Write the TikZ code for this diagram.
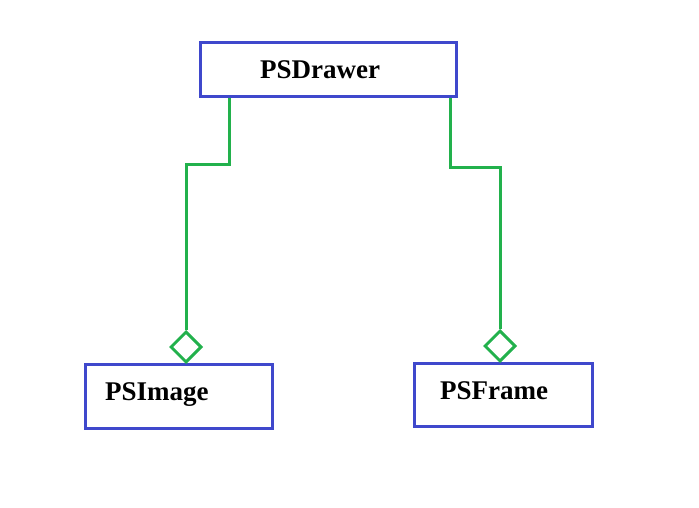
\documentclass[tikz,border=0pt]{standalone}
\usepackage{fontspec}
\setmainfont{Liberation Serif}
\usetikzlibrary{shapes.geometric}
\definecolor{paintblue}{RGB}{63,72,204}
\definecolor{paintgreen}{RGB}{34,177,76}
\begin{document}
\begin{tikzpicture}[x=1pt,y=1pt,
  box/.style={draw=paintblue,line width=3pt,rectangle,inner sep=0pt},
  lbl/.style={anchor=base west,inner sep=0pt,font=\fontsize{27}{27}\selectfont\bfseries},
  conn/.style={draw=paintgreen,line width=3pt},
  agg/.style={draw=paintgreen,line width=3pt,diamond,aspect=1,inner sep=0pt,minimum width=31pt,minimum height=31pt,fill=white}]
\useasboundingbox (0,0) rectangle (699,-508);
% boxes
\node[box,minimum width=256pt,minimum height=54pt] (drawer) at (328.5,-70) {};
\node[box,minimum width=187pt,minimum height=64pt] (image) at (178.5,-396) {};
\node[box,minimum width=178pt,minimum height=63pt] (frame) at (503,-394.5) {};
% labels
\node[lbl] (tdrawer) at (260,-79) {PSDrawer};
\node[lbl] (timage) at (105,-400) {PSImage};
\node[lbl] (tframe) at (440,-399) {PSFrame};
% diamonds
\node[agg] (dl) at (186,-347) {};
\node[agg] (dr) at (500,-346) {};
% bends
\coordinate (lb) at (229,-165);
\coordinate (rb) at (450,-168);
\draw[conn] (drawer.south -| lb) -- (lb) -| (dl.north);
\draw[conn] (drawer.south -| rb) -- (rb) -| (dr.north);
\end{tikzpicture}
\end{document}
